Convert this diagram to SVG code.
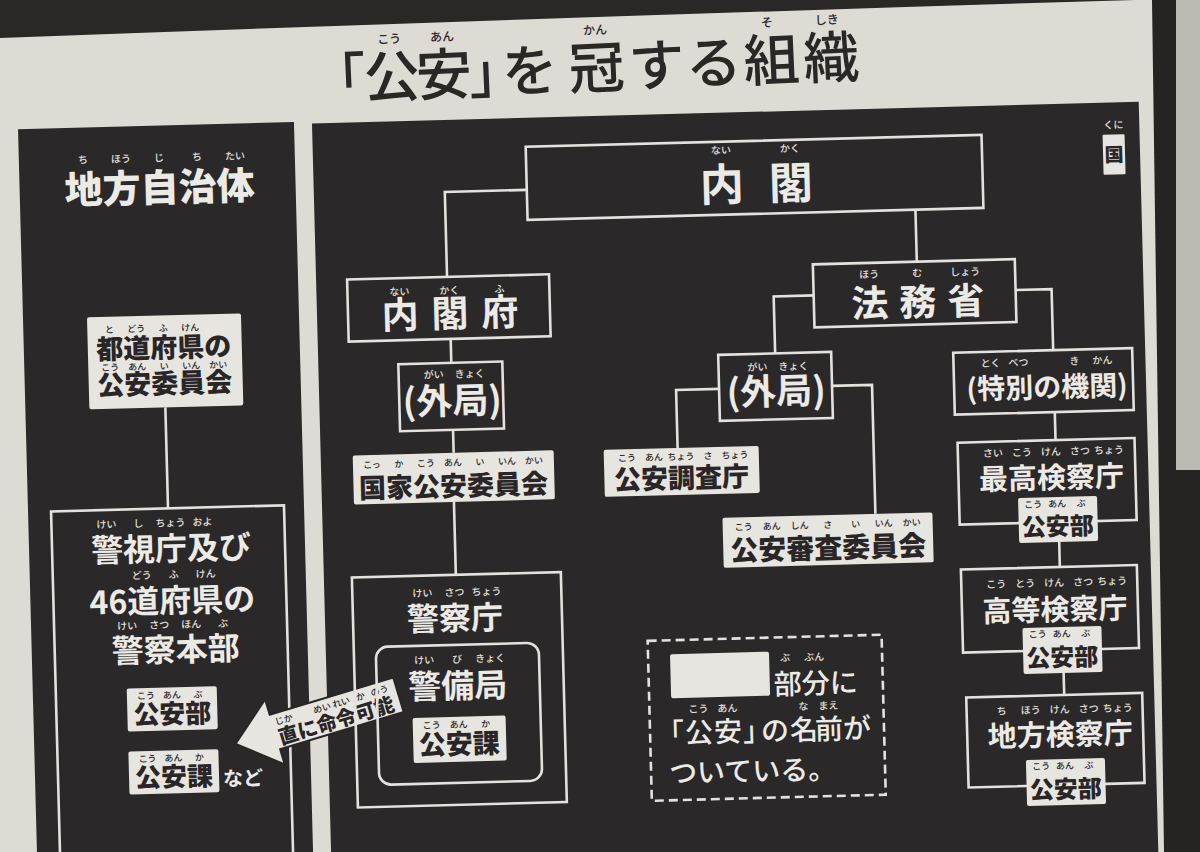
<svg xmlns="http://www.w3.org/2000/svg" width="1200" height="852" viewBox="0 0 1200 852">
<style>
text{font-family:"Noto Sans CJK JP","Noto Sans",sans-serif}
.pn{fill:#2b2829}
.bx{fill:none;stroke:#e4e2de;stroke-width:2.6}
.wb{fill:#e7e5e0}
.cn{fill:none;stroke:#e4e2de;stroke-width:2.6}
.hd{font-weight:700;fill:#eceae6;text-anchor:middle}
.gd{font-weight:900;fill:#2a2627;text-anchor:middle}
.gw{font-weight:900;fill:#eceae6;text-anchor:middle}
.fw{font-size:10px;font-weight:500;fill:#e2e0dc;text-anchor:middle}
.fd{font-size:9px;font-weight:500;fill:#2a2627;text-anchor:middle}
.lg{font-size:28px;font-weight:500;fill:#eceae6}
.tt{font-size:56px;font-weight:500;fill:#2b2727}
.tf{font-size:12px;font-weight:500;fill:#2b2727;text-anchor:middle}
</style>
<rect width="1200" height="852" fill="#dedbd5"/>
<path d="M0,0 H1135 Q600,16 0,38 Z" fill="#2a2727"/>
<polygon points="1152,0 1200,0 1200,852 1164,852" fill="#262323"/>
<rect x="1176" y="0" width="24" height="470" fill="#bdb9b3"/>
<g transform="rotate(-1.5 600 426)">
<rect class="pn" x="26" y="114" width="276" height="800"/>
<rect class="pn" x="320" y="116" width="827" height="800"/>
<g id="title" transform="rotate(-1 620 66)">
<text class="tt" x="319 373 425 478 511 578 638 695 753 813" y="88">「公安」を冠する組織</text>
<text class="tf" x="400" y="34">こう</text>
<text class="tf" x="453" y="34">あん</text>
<text class="tf" x="606" y="34">かん</text>
<text class="tf" x="778" y="34">そ</text>
<text class="tf" x="838" y="34">しき</text>
</g>
<g id="connectors">
<path class="cn" d="M166,396 V497"/>
<path class="cn" d="M533,188 H451 V273"/>
<path class="cn" d="M921,218 V270"/>
<path class="cn" d="M453,335 V359"/>
<path class="cn" d="M453,426 V449"/>
<path class="cn" d="M452,498 V571"/>
<path class="cn" d="M817,301 H777 V358"/>
<path class="cn" d="M1019,301 H1055 V362"/>
<path class="cn" d="M720,392 H677 V450"/>
<path class="cn" d="M833,392 H873 V521"/>
<path class="cn" d="M1055,424 V452"/>
<path class="cn" d="M1056,554 V579"/>
<path class="cn" d="M1057,685 V707"/>
</g>
<g id="local-gov">
<text class="gw" font-size="38" x="166" y="190">地方自治体</text>
<text class="fw" x="90" y="150">ち</text><text class="fw" x="128" y="150">ほう</text><text class="fw" x="166" y="150">じ</text><text class="fw" x="204" y="150">ち</text><text class="fw" x="242" y="150">たい</text>
</g>
<g id="pref-commission">
<rect class="wb" x="90" y="304" width="154" height="92" rx="2"/>
<text class="gd" font-size="27" x="166" y="346">都道府県の</text>
<text class="gd" font-size="27" x="166" y="382">公安委員会</text>
<text class="fd" x="112" y="320">と</text><text class="fd" x="139" y="320">どう</text><text class="fd" x="166" y="320">ふ</text><text class="fd" x="193" y="320">けん</text>
<text class="fd" x="112" y="358">こう</text><text class="fd" x="139" y="358">あん</text><text class="fd" x="166" y="358">い</text><text class="fd" x="193" y="358">いん</text><text class="fd" x="220" y="358">かい</text>
</g>
<g id="pref-police">
<rect class="bx" x="49" y="497" width="233" height="420"/>
<text class="hd" font-size="32" x="168" y="549">警視庁及び</text>
<text class="hd" font-size="32" x="168" y="601">46道府県の</text>
<text class="hd" font-size="32" x="170" y="650">警察本部</text>
<text class="fw" x="104" y="515">けい</text><text class="fw" x="136" y="515">し</text><text class="fw" x="168" y="515">ちょう</text><text class="fw" x="200" y="515">およ</text>
<text class="fw" x="138" y="567">どう</text><text class="fw" x="170" y="567">ふ</text><text class="fw" x="202" y="567">けん</text>
<text class="fw" x="122" y="617">けい</text><text class="fw" x="154" y="617">さつ</text><text class="fw" x="186" y="617">ほん</text><text class="fw" x="218" y="617">ぶ</text>
</g>
<g id="pref-koanbu">
<rect class="wb" x="120" y="676" width="90" height="43" rx="2"/>
<text class="gd" font-size="26" x="165" y="712">公安部</text>
<text class="fd" x="139" y="687">こう</text><text class="fd" x="165" y="687">あん</text><text class="fd" x="191" y="687">ぶ</text>
</g>
<g id="pref-koanka">
<rect class="wb" x="120" y="739" width="90" height="43" rx="2"/>
<text class="gd" font-size="26" x="165" y="775">公安課</text>
<text class="fd" x="139" y="750">こう</text><text class="fd" x="165" y="750">あん</text><text class="fd" x="191" y="750">か</text>
<text class="hd" font-size="20" x="234" y="776">など</text>
</g>
<g id="arrow" transform="translate(308.5 712) rotate(-15.3)">
<path d="M-84,0 L-43,-34 L-43,-18 L86,-18 L86,18 L-43,18 L-43,34 Z" fill="#e7e5e0" stroke="#2a2627" stroke-width="2"/>
<text class="gd" font-size="20" x="-31 -11 9 29 49 69" y="14">直に命令可能</text>
<text class="fd" font-size="7.5" x="-31" y="-6">じか</text><text class="fd" font-size="7.5" x="9" y="-6">めい</text><text class="fd" font-size="7.5" x="29" y="-6">れい</text><text class="fd" font-size="7.5" x="49" y="-6">か</text><text class="fd" font-size="7.5" x="69" y="-6">のう</text>
</g>
<g id="kuni">
<rect class="wb" x="1110" y="148" width="22" height="40" rx="1"/>
<text class="gd" font-size="19" x="1121" y="175">国</text>
<text class="fw" font-size="8" x="1121" y="142">くに</text>
</g>
<g id="naikaku">
<rect class="bx" x="533" y="145" width="456" height="73"/>
<text class="hd" font-size="44" x="728 797" y="204">内閣</text>
<text class="fw" font-size="11" x="728" y="157">ない</text><text class="fw" font-size="11" x="797" y="157">かく</text>
</g>
<g id="naikakufu">
<rect class="bx" x="351" y="273" width="202" height="62"/>
<text class="hd" font-size="37" x="403 453 503" y="323">内閣府</text>
<text class="fw" x="403" y="290">ない</text><text class="fw" x="453" y="290">かく</text><text class="fw" x="503" y="290">ふ</text>
</g>
<g id="gaikyoku-1">
<rect class="bx" x="400" y="359" width="104" height="67"/>
<text class="hd" font-size="36" x="453" y="410">(外局)</text>
<text class="fw" x="435" y="374">がい</text><text class="fw" x="471" y="374">きょく</text>
</g>
<g id="kokka-koan">
<rect class="wb" x="352" y="449" width="201" height="49" rx="2"/>
<text class="gd" font-size="27" x="452" y="492">国家公安委員会</text>
<text class="fd" x="371" y="462">こっ</text><text class="fd" x="398" y="462">か</text><text class="fd" x="425" y="462">こう</text><text class="fd" x="452" y="462">あん</text><text class="fd" x="479" y="462">い</text><text class="fd" x="506" y="462">いん</text><text class="fd" x="533" y="462">かい</text>
</g>
<g id="keisatsucho">
<rect class="bx" x="348" y="571" width="209" height="230"/>
<text class="hd" font-size="32" x="450" y="626">警察庁</text>
<text class="fw" x="418" y="592">けい</text><text class="fw" x="450" y="592">さつ</text><text class="fw" x="482" y="592">ちょう</text>
</g>
<g id="keibikyoku">
<rect class="bx" x="370" y="641" width="163" height="138" rx="12"/>
<text class="hd" font-size="33" x="451" y="694">警備局</text>
<text class="fw" x="418" y="659">けい</text><text class="fw" x="451" y="659">び</text><text class="fw" x="484" y="659">きょく</text>
</g>
<g id="keibi-koanka">
<rect class="wb" x="405" y="713" width="93" height="45" rx="2"/>
<text class="gd" font-size="27" x="451" y="750">公安課</text>
<text class="fd" x="424" y="724">こう</text><text class="fd" x="451" y="724">あん</text><text class="fd" x="478" y="724">か</text>
</g>
<g id="homusho">
<rect class="bx" x="817" y="270" width="202" height="63"/>
<text class="hd" font-size="37" x="873 921 969" y="324">法務省</text>
<text class="fw" x="873" y="285">ほう</text><text class="fw" x="921" y="285">む</text><text class="fw" x="969" y="285">しょう</text>
</g>
<g id="gaikyoku-2">
<rect class="bx" x="720" y="358" width="113" height="66"/>
<text class="hd" font-size="36" x="777" y="409">(外局)</text>
<text class="fw" x="759" y="375">がい</text><text class="fw" x="795" y="375">きょく</text>
</g>
<g id="koan-chosa">
<rect class="wb" x="603" y="450" width="155" height="47" rx="2"/>
<text class="gd" font-size="27" x="680" y="490">公安調査庁</text>
<text class="fd" x="626" y="462">こう</text><text class="fd" x="653" y="462">あん</text><text class="fd" x="680" y="462">ちょう</text><text class="fd" x="707" y="462">さ</text><text class="fd" x="734" y="462">ちょう</text>
</g>
<g id="koan-shinsa">
<rect class="wb" x="720" y="521" width="210" height="50" rx="2"/>
<text class="gd" font-size="28" x="825" y="564">公安審査委員会</text>
<text class="fd" x="741" y="534">こう</text><text class="fd" x="769" y="534">あん</text><text class="fd" x="797" y="534">しん</text><text class="fd" x="825" y="534">さ</text><text class="fd" x="853" y="534">い</text><text class="fd" x="881" y="534">いん</text><text class="fd" x="909" y="534">かい</text>
</g>
<g id="tokubetsu">
<rect class="bx" x="955" y="362" width="179" height="62"/>
<text class="hd" font-size="28" x="1048" y="409">(特別の機関)</text>
<text class="fw" font-size="9" x="992" y="377">とく</text><text class="fw" font-size="9" x="1020" y="377">べつ</text><text class="fw" font-size="9" x="1076" y="377">き</text><text class="fw" font-size="9" x="1104" y="377">かん</text>
</g>
<g id="saiko">
<rect class="bx" x="957" y="452" width="177" height="82"/>
<text class="hd" font-size="29" x="1050" y="500">最高検察庁</text>
<text class="fw" font-size="9" x="992" y="467">さい</text><text class="fw" font-size="9" x="1021" y="467">こう</text><text class="fw" font-size="9" x="1050" y="467">けん</text><text class="fw" font-size="9" x="1079" y="467">さつ</text><text class="fw" font-size="9" x="1108" y="467">ちょう</text>
<rect class="wb" x="1016" y="509" width="79" height="45" rx="2"/>
<text class="gd" font-size="24" x="1055" y="547">公安部</text>
<text class="fd" font-size="8" x="1031" y="519">こう</text><text class="fd" font-size="8" x="1055" y="519">あん</text><text class="fd" font-size="8" x="1079" y="519">ぶ</text>
</g>
<g id="koto">
<rect class="bx" x="957" y="579" width="176" height="83"/>
<text class="hd" font-size="29" x="1050" y="632">高等検察庁</text>
<text class="fw" font-size="9" x="992" y="598">こう</text><text class="fw" font-size="9" x="1021" y="598">とう</text><text class="fw" font-size="9" x="1050" y="598">けん</text><text class="fw" font-size="9" x="1079" y="598">さつ</text><text class="fw" font-size="9" x="1108" y="598">ちょう</text>
<rect class="wb" x="1017" y="639" width="79" height="46" rx="2"/>
<text class="gd" font-size="24" x="1056" y="678">公安部</text>
<text class="fd" font-size="8" x="1032" y="649">こう</text><text class="fd" font-size="8" x="1056" y="649">あん</text><text class="fd" font-size="8" x="1080" y="649">ぶ</text>
</g>
<g id="chiho">
<rect class="bx" x="959" y="707" width="176" height="90"/>
<text class="hd" font-size="29" x="1052" y="757">地方検察庁</text>
<text class="fw" font-size="9" x="994" y="725">ち</text><text class="fw" font-size="9" x="1023" y="725">ほう</text><text class="fw" font-size="9" x="1052" y="725">けん</text><text class="fw" font-size="9" x="1081" y="725">さつ</text><text class="fw" font-size="9" x="1110" y="725">ちょう</text>
<rect class="wb" x="1017" y="771" width="79" height="46" rx="2"/>
<text class="gd" font-size="24" x="1056" y="810">公安部</text>
<text class="fd" font-size="8" x="1032" y="781">こう</text><text class="fd" font-size="8" x="1056" y="781">あん</text><text class="fd" font-size="8" x="1080" y="781">ぶ</text>
</g>
<g id="legend">
<rect x="642" y="642" width="234" height="160" fill="none" stroke="#e4e2de" stroke-width="2.6" stroke-dasharray="9 5"/>
<rect class="wb" x="664" y="656" width="99" height="44" rx="2"/>
<text class="lg" x="767" y="699">部分に</text>
<text class="fw" x="779" y="666">ぶ</text><text class="fw" x="808" y="666">ぶん</text>
<text class="lg" x="648 677 706 735 753 782 807 835" y="745">「公安」の名前が</text>
<text class="fw" x="691" y="715">こう</text><text class="fw" x="720" y="715">あん</text><text class="fw" x="796" y="715">な</text><text class="fw" x="821" y="715">まえ</text>
<text class="lg" x="660" y="785">ついている。</text>
</g>
</g>
</svg>
